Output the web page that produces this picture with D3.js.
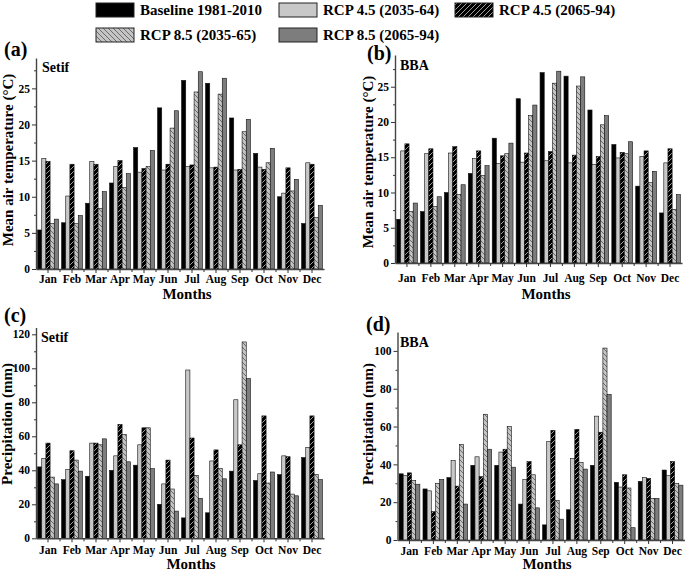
<!DOCTYPE html>
<html><head><meta charset="utf-8">
<script src="https://cdn.jsdelivr.net/npm/d3@7"></script>
<style>
body{margin:0;background:#fff}
svg{display:block}
text{font-family:"Liberation Serif","Times New Roman",serif;font-weight:bold;fill:#000}
</style>
</head><body>
<svg id="chart" width="685" height="573"></svg>
<script>
const months = ["Jan","Feb","Mar","Apr","May","Jun","Jul","Aug","Sep","Oct","Nov","Dec"];
const seriesLabels = ["Baseline 1981-2010","RCP 4.5 (2035-64)","RCP 4.5 (2065-94)","RCP 8.5 (2035-65)","RCP 8.5 (2065-94)"];

// (a) Setif mean air temperature
const tSetifBase = [5.4,6.4,9.1,11.9,16.8,22.3,26.1,25.7,20.9,16.0,10.0,6.3];
const tSetif45a  = [15.3,10.1,14.9,14.2,13.4,13.7,14.2,14.0,13.7,14.1,10.5,14.7];
const tSetif45b  = [14.9,14.5,14.5,15.0,13.9,14.5,14.4,14.1,13.8,13.8,14.0,14.5];
const tSetif85a  = [6.3,6.3,8.4,11.3,14.2,19.5,24.5,24.2,19.0,14.7,10.8,7.1];
const tSetif85b  = [6.9,7.4,10.7,13.2,16.4,21.9,27.3,26.4,20.7,16.7,12.4,8.8];
// (b) BBA mean air temperature
const tBBABase = [6.2,7.3,10.0,12.7,17.7,23.3,27.0,26.5,21.7,16.8,10.9,7.1];
const tBBA45a  = [15.9,15.5,15.6,14.8,14.1,14.3,14.5,14.2,14.0,14.9,15.1,14.2];
const tBBA45b  = [16.9,16.2,16.5,15.9,15.2,15.6,15.8,15.3,15.1,15.7,15.9,16.2];
const tBBA85a  = [7.3,8.0,9.7,12.4,15.5,20.9,25.5,25.1,19.6,15.5,11.4,7.6];
const tBBA85b  = [8.5,9.4,11.1,13.8,17.0,22.4,27.2,26.4,20.9,17.2,13.0,9.7];
// (c) Setif precipitation
const pSetifBase = [42,34.5,36.5,40,43,20,12,15,39.5,34,37.5,47.5];
const pSetif45a  = [47,40.5,56,48.5,55,32,99,45.5,81.5,38,48.5,53.5];
const pSetif45b  = [56,51.5,56,67,65,46,59,52,55,72,48,72];
const pSetif85a  = [36,46,55,61,65,29,37,41,115.5,32.5,26,37.5];
const pSetif85b  = [32,39.5,58.5,45,41,16,23.5,35,94,39,25,34.5];
// (d) BBA precipitation
const pBBABase = [35,27,33,39.5,39.5,19,8,16,39.5,30.5,31,37];
const pBBA45a  = [34,26,42,44,46.5,32,52,43,65.5,28,33,34];
const pBBA45b  = [35.5,15,28.5,33.5,48,41.5,58,58.5,57,34.5,32.5,41.5];
const pBBA85a  = [31.5,30,50.5,66.5,60,34.5,21,41,101.5,27.5,22,30];
const pBBA85b  = [29.5,32,19,48,38.5,17,11,37.5,77,6.5,22,29];

const tempTicks = [0,5,10,15,20,25];
const precTicksC = [0,20,40,60,80,100,120];
const precTicksD = [0,20,40,60,80,100];

const svg = d3.select("#chart");
const defs = svg.append("defs");
function hatch(id, bg, fg, dir){
  const p = defs.append("pattern").attr("id", id).attr("patternUnits","userSpaceOnUse")
    .attr("width",5).attr("height",5);
  p.append("rect").attr("width",5).attr("height",5).attr("fill",bg);
  if(dir>0){
    p.append("path").attr("d","M-1,1 L1,-1 M0,5 L5,0 M4,6 L6,4").attr("stroke",fg).attr("stroke-width",0.8);
  } else {
    p.append("path").attr("d","M-1,4 L1,6 M0,0 L5,5 M4,-1 L6,1").attr("stroke",fg).attr("stroke-width",0.8);
  }
}
hatch("hBlack","#000","#c8c8c8",1);
hatch("hGray","#c4c4c4","#555",-1);
const fills = ["#000","#c8c8c8","url(#hBlack)","url(#hGray)","#7d7d7d"];

// legend
const legendPos = [[96,3],[279,3],[455,3],[96,28],[279,28]];
seriesLabels.forEach((lab,i)=>{
  const [lx,ly] = legendPos[i];
  svg.append("rect").attr("x",lx).attr("y",ly).attr("width",38).attr("height",14)
    .attr("fill",fills[i]).attr("stroke","#222").attr("stroke-width",1);
  svg.append("text").attr("x",lx+44).attr("y",ly+12).attr("font-size",15).text(lab);
});

const panels = [
  {letter:"(a)", lpos:[4,56], station:"Setif", spos:[42,72], x0:36, x1:324, yb:269, yt:58, ymax:29.2,
   ticks:tempTicks, minor:2.5, data:[tSetifBase,tSetif45a,tSetif45b,tSetif85a,tSetif85b],
   ylab:"Mean air temperature (°C)", ylpos:[13,160], xlpos:[187,299], mly:283},
  {letter:"(b)", lpos:[367,60], station:"BBA", spos:[400,70], x0:395, x1:682, yb:263, yt:55, ymax:29.5,
   ticks:tempTicks, minor:2.5, data:[tBBABase,tBBA45a,tBBA45b,tBBA85a,tBBA85b],
   ylab:"Mean air temperature (°C)", ylpos:[373,162], xlpos:[546,299], mly:282},
  {letter:"(c)", lpos:[4,322], station:"Setif", spos:[41,342], x0:36, x1:324, yb:538.3, yt:327.5, ymax:124,
   ticks:precTicksC, minor:10, data:[pSetifBase,pSetif45a,pSetif45b,pSetif85a,pSetif85b],
   ylab:"Precipitation (mm)", ylpos:[12,424], xlpos:[191,569], mly:554},
  {letter:"(d)", lpos:[366,331], station:"BBA", spos:[400,347], x0:397.5, x1:684.5, yb:540, yt:332, ymax:110,
   ticks:precTicksD, minor:10, data:[pBBABase,pBBA45a,pBBA45b,pBBA85a,pBBA85b],
   ylab:"Precipitation (mm)", ylpos:[373,424], xlpos:[547,569], mly:555}
];

panels.forEach(P=>{
  const g = svg.append("g");
  const x = d3.scaleBand().domain(months).range([P.x0,P.x1]).paddingInner(0.13).paddingOuter(0.065);
  const xs = d3.scaleBand().domain(d3.range(5)).range([0,x.bandwidth()]);
  const y = d3.scaleLinear().domain([0,P.ymax]).range([P.yb,P.yt]);

  // bars
  P.data.forEach((arr,si)=>{
    g.append("g").selectAll("rect").data(arr).join("rect")
      .attr("x",(d,i)=>x(months[i])+xs(si))
      .attr("y",d=>y(d))
      .attr("width",xs.bandwidth())
      .attr("height",d=>y(0)-y(d))
      .attr("fill",fills[si])
      .attr("stroke","#111").attr("stroke-width",0.6);
  });

  // y axis minor
  const minors = d3.range(0,P.ymax,P.minor).filter(v=>!P.ticks.includes(v));
  g.append("g").attr("transform",`translate(${P.x0},0)`)
    .call(d3.axisLeft(y).tickValues(minors).tickSize(2).tickFormat(""))
    .call(a=>a.select(".domain").remove())
    .call(a=>a.selectAll("line").attr("stroke","#333"));
  // y axis major
  const ya = g.append("g").attr("transform",`translate(${P.x0},0)`)
    .call(d3.axisLeft(y).tickValues(P.ticks).tickSize(4).tickSizeOuter(0).tickPadding(2));
  ya.select(".domain").attr("stroke","#444").attr("stroke-width",1.4);
  ya.selectAll("line").attr("stroke","#333");
  ya.selectAll("text").attr("font-size",11.5).attr("font-family","Liberation Serif").attr("font-weight","bold").attr("fill","#000");

  // x axis
  const xa = g.append("g").attr("transform",`translate(0,${P.yb})`)
    .call(d3.axisBottom(x).tickSize(4).tickSizeOuter(0).tickPadding(6));
  xa.select(".domain").attr("stroke","#444").attr("stroke-width",1.4);
  xa.selectAll("line").attr("stroke","#333");
  xa.selectAll("text").attr("font-size",11.5).attr("font-family","Liberation Serif").attr("font-weight","bold").attr("fill","#000")
    .attr("y",P.mly-P.yb).attr("dy",0);
  // boundary ticks
  const step = x.step();
  g.append("g").selectAll("line").data(months.slice(1)).join("line")
    .attr("x1",d=>x(d)+x.bandwidth()/2-step/2).attr("x2",d=>x(d)+x.bandwidth()/2-step/2)
    .attr("y1",P.yb).attr("y2",P.yb+3).attr("stroke","#333");

  // labels
  svg.append("text").attr("x",P.lpos[0]).attr("y",P.lpos[1]).attr("font-size",20).text(P.letter);
  svg.append("text").attr("x",P.spos[0]).attr("y",P.spos[1]).attr("font-size",14).text(P.station);
  svg.append("text").attr("transform",`translate(${P.ylpos[0]},${P.ylpos[1]}) rotate(-90)`)
    .attr("text-anchor","middle").attr("font-size",15).text(P.ylab);
  svg.append("text").attr("x",P.xlpos[0]).attr("y",P.xlpos[1]).attr("text-anchor","middle")
    .attr("font-size",15).text("Months");
});
</script>
</body></html>
